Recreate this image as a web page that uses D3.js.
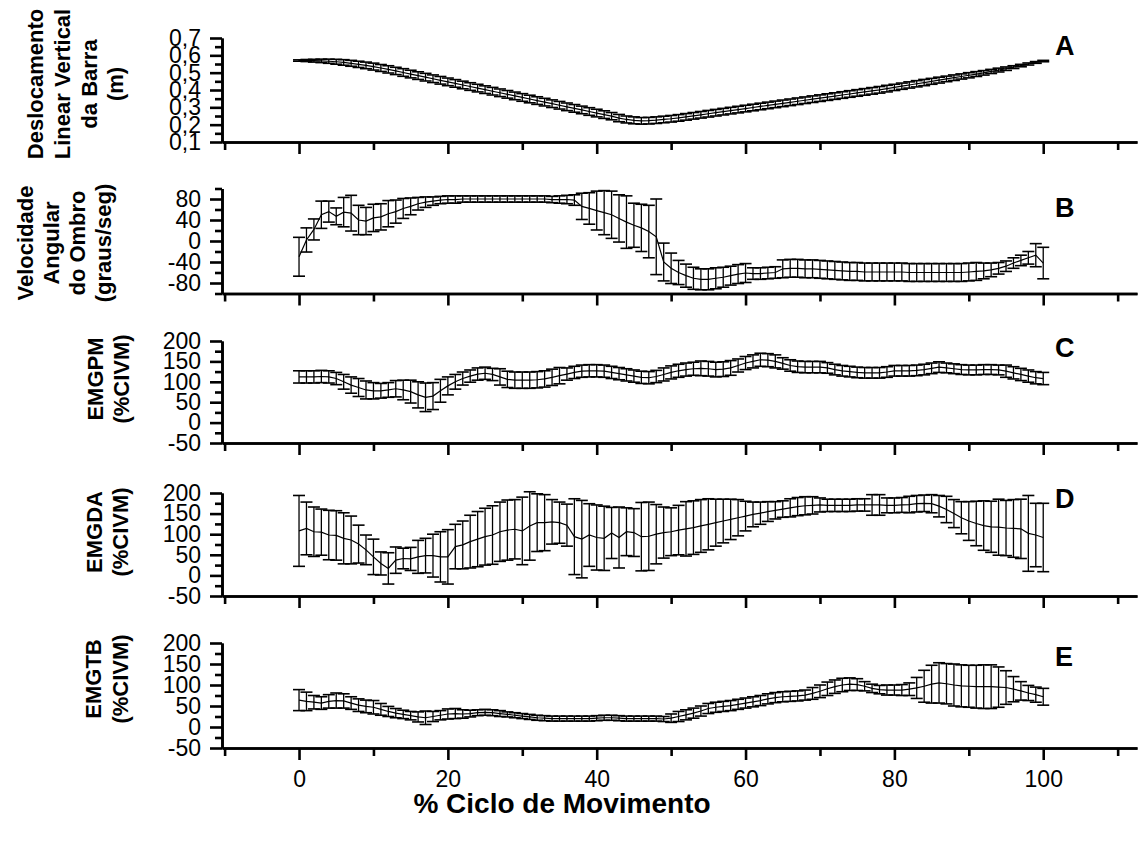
<!DOCTYPE html>
<html>
<head>
<meta charset="utf-8">
<script src="https://cdn.jsdelivr.net/npm/d3@7"></script>
<style>
  body { margin: 0; background: #fff; }
  svg text { font-family: "Liberation Sans", Arial, sans-serif; fill: #000; }
</style>
</head>
<body>
<svg id="chart" width="1143" height="841"></svg>
<script>
// % of movement cycle (one point per percent)
const cycle = d3.range(0, 101);

// A - vertical bar displacement (m)
const meanA = [0.570,0.570,0.569,0.568,0.566,0.563,0.559,0.554,0.548,0.542,0.535,0.527,0.519,0.510,0.501,0.492,0.483,0.474,0.465,0.456,
  0.447,0.438,0.429,0.420,0.411,0.402,0.393,0.384,0.375,0.366,0.357,0.348,0.339,0.330,0.321,0.312,0.303,0.294,0.285,0.276,
  0.267,0.258,0.249,0.238,0.230,0.225,0.222,0.223,0.226,0.230,0.234,0.239,0.245,0.251,0.257,0.263,0.269,0.275,0.281,0.287,
  0.293,0.299,0.305,0.311,0.317,0.323,0.329,0.335,0.341,0.347,0.353,0.359,0.365,0.371,0.377,0.383,0.389,0.395,0.401,0.408,
  0.415,0.422,0.429,0.436,0.443,0.450,0.457,0.464,0.471,0.478,0.485,0.492,0.499,0.507,0.515,0.523,0.532,0.541,0.550,0.559,0.567];
const sdA = [0.004,0.006,0.008,0.010,0.012,0.014,0.016,0.017,0.018,0.019,0.020,0.020,0.021,0.021,0.022,0.022,0.022,0.022,0.022,0.022,
  0.022,0.022,0.022,0.022,0.022,0.022,0.022,0.022,0.022,0.022,0.022,0.022,0.022,0.022,0.022,0.022,0.022,0.022,0.022,0.022,
  0.022,0.022,0.021,0.021,0.020,0.020,0.019,0.019,0.019,0.019,0.019,0.019,0.019,0.019,0.019,0.019,0.019,0.019,0.019,0.019,
  0.019,0.019,0.019,0.019,0.019,0.019,0.019,0.019,0.019,0.019,0.019,0.019,0.019,0.019,0.019,0.019,0.019,0.019,0.019,0.019,
  0.018,0.018,0.018,0.018,0.018,0.017,0.017,0.016,0.016,0.015,0.015,0.014,0.013,0.012,0.011,0.010,0.008,0.007,0.006,0.005,0.004];

// B - shoulder angular velocity (graus/seg)
const meanB = [-30,2,22,50,56,47,55,53,40,38,44,46,52,56,62,66,71,74,76,78,
  79,79,80,80,80,80,80,80,80,80,80,80,80,80,79,79,79,78,66,62,
  58,54,50,43,36,30,25,18,8,-40,-52,-60,-66,-71,-73,-73,-71,-69,-66,-63,
  -61,-62,-62,-61,-60,-53,-52,-52,-53,-53,-54,-55,-56,-57,-58,-58,-59,-59,-59,-59,
  -59,-59,-60,-60,-60,-60,-60,-60,-60,-60,-59,-58,-57,-55,-52,-48,-42,-37,-32,-27,-42];
const sdB = [37,23,20,26,20,16,28,34,28,26,26,25,25,22,19,16,12,10,8,7,
  7,7,6,6,6,6,6,6,6,6,6,6,6,6,6,7,8,10,25,30,
  37,42,45,45,50,42,45,50,72,36,29,23,22,21,20,20,20,19,18,18,
  18,11,11,11,11,17,17,17,17,17,17,17,17,17,17,17,17,17,17,17,
  17,17,17,17,17,17,17,17,17,17,17,17,15,13,11,10,10,10,12,22,30];

// C - EMGPM (%CIVM)
const meanC = [112,112,112,113,112,108,100,92,86,80,78,78,80,83,80,76,68,62,65,78,
  90,100,108,114,119,121,118,112,106,104,104,104,105,107,111,115,119,123,126,127,
  127,126,123,120,117,114,111,110,113,118,123,127,130,132,133,132,130,131,134,140,
  146,150,154,153,150,145,140,137,136,136,136,134,130,127,125,123,122,122,122,124,
  127,127,127,128,130,133,136,134,132,130,129,129,130,130,129,126,122,118,114,110,108];
const sdC = [15,15,15,15,15,15,18,20,22,22,20,18,18,20,24,28,32,35,33,28,
  22,18,16,15,15,15,15,20,20,20,20,20,20,20,20,20,15,15,15,15,
  15,15,15,15,15,15,15,15,15,16,16,16,16,16,18,18,18,18,18,16,
  16,16,16,16,16,14,14,14,14,14,14,13,13,13,13,13,13,13,13,13,
  13,13,13,13,13,13,13,12,12,12,12,12,12,12,12,15,15,15,15,15,15];

// D - EMGDA (%CIVM)
const meanD = [108,114,106,105,98,97,90,86,76,62,45,29,17,37,41,40,45,48,48,45,
  45,70,74,82,88,94,98,106,110,112,108,120,128,128,130,128,122,94,88,98,
  92,90,103,92,106,104,94,95,100,104,106,110,113,116,120,124,128,132,136,140,
  144,148,151,155,158,161,164,167,169,170,171,170,170,170,170,171,171,171,171,170,
  170,171,172,174,175,174,168,160,150,140,132,126,121,118,117,115,114,113,102,98,92];
const sdD = [86,64,60,56,60,60,62,58,46,36,43,28,38,32,25,28,40,42,52,61,
  66,54,58,64,67,69,71,72,73,72,82,83,70,68,54,50,51,92,94,76,
  79,78,62,74,58,58,83,83,72,62,58,60,66,65,64,62,57,53,49,44,
  36,30,27,24,21,20,22,22,22,21,17,15,15,15,15,15,15,25,25,18,
  18,18,20,20,20,22,26,32,34,39,47,54,60,62,68,67,70,72,92,77,83];

// E - EMGTB (%CIVM)
const meanE = [64,61,59,57,61,63,62,57,52,49,47,42,37,33,30,27,24,22,25,28,
  31,32,31,32,34,35,34,32,30,28,26,24,22,21,20,20,20,20,20,20,
  21,22,22,21,20,20,20,20,20,19,21,25,29,33,38,44,47,49,51,54,
  57,60,63,67,70,72,73,74,76,80,85,91,96,100,102,101,97,92,89,88,
  88,88,90,93,97,102,105,103,100,98,97,96,96,96,95,94,90,86,81,77,72];
const sdE = [25,22,16,15,16,18,17,15,15,15,16,14,12,11,10,10,12,16,12,11,
  12,12,10,8,7,7,7,7,6,6,6,6,6,6,6,6,6,6,6,6,
  6,6,6,6,6,6,6,6,6,6,10,12,12,12,12,12,12,12,12,12,
  12,12,12,12,12,12,12,12,12,14,15,16,16,16,15,14,11,10,10,12,
  12,13,15,25,38,45,48,48,50,50,50,51,52,52,48,40,30,22,18,18,20];

const xMajor = [0, 20, 40, 60, 80, 100];
const xMinor = [-10, 10, 30, 50, 70, 90, 110];

const svg = d3.select("#chart");
// axis line runs from the y axis (x=222) to the right edge (x=1137)
const x = d3.scaleLinear().domain([-10.35, 112.6]).range([222, 1137]);

const panels = [
  { key: "A", mean: meanA, sd: sdA, domain: [0.1, 0.7], range: [142, 38],
    major: [0.1, 0.2, 0.3, 0.4, 0.5, 0.6, 0.7], minor: [0.15, 0.25, 0.35, 0.45, 0.55, 0.65],
    fmt: d => d3.format(".1f")(d).replace(".", ","), letterY: 55,
    title: ["Deslocamento", "Linear Vertical", "da Barra", "(m)"], titleX: [43, 70, 97, 123], titleY: 84 },
  { key: "B", mean: meanB, sd: sdB, domain: [-100, 100], range: [293.5, 188.5],
    major: [-80, -40, 0, 40, 80], minor: [-100, -60, -20, 20, 60, 100],
    fmt: d => d, letterY: 217,
    title: ["Velocidade", "Angular", "do Ombro", "(graus/seg)"], titleX: [33, 59, 85, 111], titleY: 243 },
  { key: "C", mean: meanC, sd: sdC, domain: [-50, 200], range: [443, 341],
    major: [-50, 0, 50, 100, 150, 200], minor: [-25, 25, 75, 125, 175],
    fmt: d => d, letterY: 357,
    title: ["EMGPM", "(%CIVM)"], titleX: [103, 129], titleY: 379 },
  { key: "D", mean: meanD, sd: sdD, domain: [-50, 200], range: [596, 493],
    major: [-50, 0, 50, 100, 150, 200], minor: [-25, 25, 75, 125, 175],
    fmt: d => d, letterY: 508,
    title: ["EMGDA", "(%CIVM)"], titleX: [102, 128], titleY: 532 },
  { key: "E", mean: meanE, sd: sdE, domain: [-50, 200], range: [748, 643],
    major: [-50, 0, 50, 100, 150, 200], minor: [-25, 25, 75, 125, 175],
    fmt: d => d, letterY: 666,
    title: ["EMGTB", "(%CIVM)"], titleX: [101, 128], titleY: 679 }
];

function styleAxis(g, width) {
  g.select(".domain").attr("stroke", "#000").attr("stroke-width", width);
  g.selectAll(".tick line").attr("stroke", "#000").attr("stroke-width", width);
  g.selectAll(".tick text").attr("font-size", 23).attr("fill", "#000");
}

panels.forEach((p, pi) => {
  const y = d3.scaleLinear().domain(p.domain).range(p.range);
  const yBottom = p.range[0];

  // y axis, minor then major
  svg.append("g").attr("transform", "translate(222,0)")
    .call(d3.axisLeft(y).tickValues(p.minor).tickSize(7).tickSizeOuter(0).tickFormat(""))
    .call(g => styleAxis(g, 2.6));
  svg.append("g").attr("transform", "translate(222,0)")
    .call(d3.axisLeft(y).tickValues(p.major).tickSize(12).tickSizeOuter(0).tickPadding(9).tickFormat(p.fmt))
    .call(g => styleAxis(g, 2.6));

  // x axis
  svg.append("g").attr("transform", `translate(0,${yBottom})`)
    .call(d3.axisBottom(x).tickValues(xMinor).tickSize(8).tickSizeOuter(0).tickFormat(""))
    .call(g => styleAxis(g, 2.6));
  svg.append("g").attr("transform", `translate(0,${yBottom})`)
    .call(d3.axisBottom(x).tickValues(xMajor).tickSize(12).tickSizeOuter(0).tickPadding(11)
      .tickFormat(pi === panels.length - 1 ? d => d : ""))
    .call(g => styleAxis(g, 2.6));

  // error bars
  const pts = cycle.map((c, i) => ({ c: c, m: p.mean[i], s: p.sd[i] }));
  const eb = svg.append("g").attr("stroke", "#000").attr("fill", "none");
  eb.selectAll("line.v").data(pts).enter().append("line")
    .attr("x1", d => x(d.c)).attr("x2", d => x(d.c))
    .attr("y1", d => y(d.m - d.s)).attr("y2", d => y(d.m + d.s))
    .attr("stroke-width", 1.3);
  eb.selectAll("line.t").data(pts).enter().append("line")
    .attr("x1", d => x(d.c) - 6).attr("x2", d => x(d.c) + 6)
    .attr("y1", d => y(d.m + d.s)).attr("y2", d => y(d.m + d.s))
    .attr("stroke-width", 1.6);
  eb.selectAll("line.b").data(pts).enter().append("line")
    .attr("x1", d => x(d.c) - 6).attr("x2", d => x(d.c) + 6)
    .attr("y1", d => y(d.m - d.s)).attr("y2", d => y(d.m - d.s))
    .attr("stroke-width", 1.6);

  // mean line
  svg.append("path").datum(pts)
    .attr("fill", "none").attr("stroke", "#000").attr("stroke-width", 1.2)
    .attr("d", d3.line().x(d => x(d.c)).y(d => y(d.m)));

  // panel letter
  svg.append("text").attr("x", 1055).attr("y", p.letterY)
    .attr("font-size", 27).attr("font-weight", "bold").text(p.key);

  // y title (rotated lines)
  p.title.forEach((t, i) => {
    svg.append("text")
      .attr("transform", `translate(${p.titleX[i]},${p.titleY}) rotate(-90)`)
      .attr("text-anchor", "middle")
      .attr("font-size", 22).attr("font-weight", "bold")
      .text(t);
  });
});

// x title
svg.append("text").attr("x", 562).attr("y", 813)
  .attr("text-anchor", "middle").attr("font-size", 28).attr("font-weight", "bold")
  .text("% Ciclo de Movimento");
</script>
</body>
</html>
